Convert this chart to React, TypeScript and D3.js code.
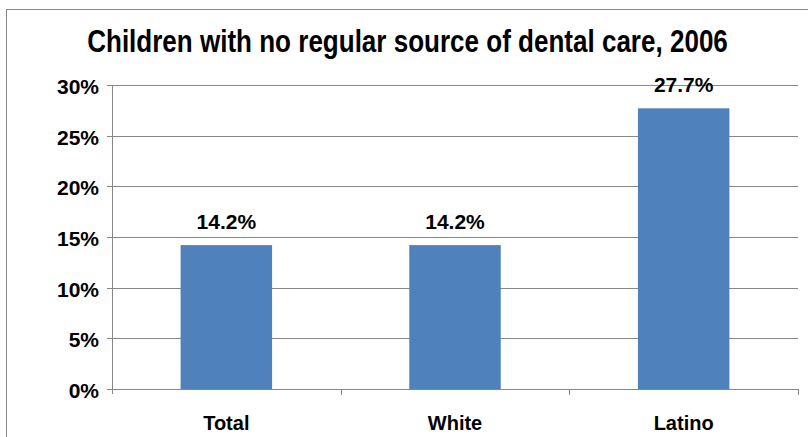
import React, { useEffect } from "react";
import * as d3 from "d3";

const categories = ["Total", "White", "Latino"];
const values = [14.2, 14.2, 27.7];
const yTicks = [0, 5, 10, 15, 20, 25, 30];
const title = "Children with no regular source of dental care, 2006";

const W = 808;
const H = 437;
const margin = { left: 112, right: 10, top: 85, bottom: 48 };
const barColor = "#4f81bd";
const gridColor = "#878787";
const font = "'Liberation Sans', Arial, sans-serif";

export default function App() {
  useEffect(() => {
    document.body.style.margin = "0";
  }, []);

  const x = d3
    .scaleBand<string>()
    .domain(categories)
    .range([margin.left, W - margin.right])
    .paddingInner(0.6)
    .paddingOuter(0.3);
  const band = d3
    .scaleBand<string>()
    .domain(categories)
    .range([margin.left, W - margin.right]);
  const y = d3
    .scaleLinear()
    .domain([0, 30])
    .range([H - margin.bottom, margin.top]);

  const x0 = margin.left;
  const x1 = W - margin.right;
  const yBase = y(0);
  const step = band.step();

  return (
    <svg width={W} height={H} style={{ display: "block" }}>
      <rect x={0} y={0} width={W} height={H} fill="#fff" />
      {/* chart frame, only top and left are inside the picture */}
      <rect
        x={6.5}
        y={9.5}
        width={W + 20}
        height={H + 20}
        fill="none"
        stroke={gridColor}
        strokeWidth={1}
      />

      {/* title is narrow in the original, squeeze it horizontally */}
      <g transform="translate(407.5,52) scale(0.84,1)">
        <text
          x={0}
          y={0}
          textAnchor="middle"
          fontFamily={font}
          fontWeight="bold"
          fontSize={31}
        >
          {title}
        </text>
      </g>

      {/* gridlines and y ticks */}
      {yTicks.map((t) => (
        <g key={t}>
          {t > 0 && (
            <line
              x1={x0}
              x2={x1}
              y1={Math.round(y(t)) + 0.5}
              y2={Math.round(y(t)) + 0.5}
              stroke={gridColor}
            />
          )}
          <line
            x1={x0 - 5}
            x2={x0}
            y1={Math.round(y(t)) + 0.5}
            y2={Math.round(y(t)) + 0.5}
            stroke={gridColor}
          />
          <text
            x={99}
            y={y(t) + 9}
            textAnchor="end"
            fontFamily={font}
            fontWeight="bold"
            fontSize={21}
          >
            {t}%
          </text>
        </g>
      ))}

      {/* bars */}
      {categories.map((c, i) => (
        <g key={c}>
          <rect
            x={x(c)}
            y={y(values[i])}
            width={x.bandwidth()}
            height={yBase - y(values[i])}
            fill={barColor}
          />
          <text
            x={(x(c) ?? 0) + x.bandwidth() / 2}
            y={y(values[i]) - 16}
            textAnchor="middle"
            fontFamily={font}
            fontWeight="bold"
            fontSize={21}
          >
            {values[i].toFixed(1)}%
          </text>
          <text
            x={(band(c) ?? 0) + step / 2}
            y={430}
            textAnchor="middle"
            fontFamily={font}
            fontWeight="bold"
            fontSize={20}
          >
            {c}
          </text>
        </g>
      ))}

      {/* axes */}
      <line
        x1={x0 + 0.5}
        x2={x0 + 0.5}
        y1={y(30)}
        y2={yBase + 5}
        stroke={gridColor}
      />
      <line
        x1={x0}
        x2={x1}
        y1={Math.round(yBase) + 0.5}
        y2={Math.round(yBase) + 0.5}
        stroke={gridColor}
      />
      {categories.map((c) => (
        <line
          key={c}
          x1={Math.round((band(c) ?? 0) + step) + 0.5}
          x2={Math.round((band(c) ?? 0) + step) + 0.5}
          y1={yBase}
          y2={yBase + 6}
          stroke={gridColor}
        />
      ))}
    </svg>
  );
}
